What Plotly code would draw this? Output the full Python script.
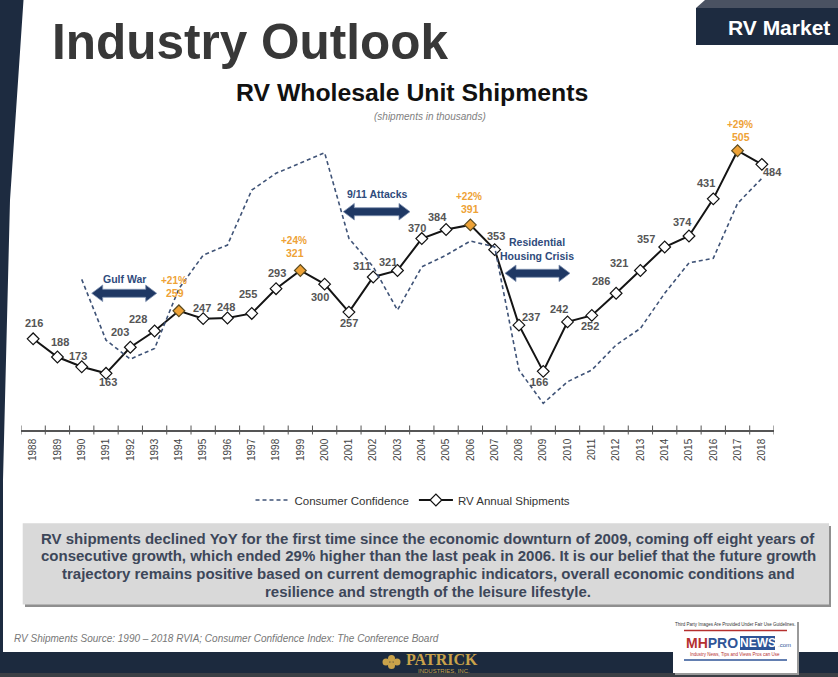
import plotly.graph_objects as go

# ---------------- data ----------------
years = list(range(1988, 2019))
rv_shipments = [216, 188, 173, 163, 203, 228, 259, 247, 248, 255, 293, 321, 300, 257, 311,
                321, 370, 384, 391, 353, 237, 166, 242, 252, 286, 321, 357, 374, 431, 505, 484]
consumer_confidence = [None, None, 91.5, 68.7, 61.6, 65.6, 88.0, 100.6, 104.4, 125.0, 131.3,
                       135.0, 139.0, 106.9, 96.2, 80.0, 96.2, 100.6, 105.9, 103.7, 57.5, 45.0,
                       53.1, 57.5, 66.9, 73.1, 86.3, 97.7, 99.4, 120.0, 129.4]
peak_years = [1994, 1999, 2006, 2017]
peak_growth = ["+21%", "+24%", "+22%", "+29%"]

events = ["Gulf War", "9/11 Attacks", "Residential<br>Housing Crisis"]

summary_lines = [
    "RV shipments declined YoY for the first time since the economic downturn of 2009, coming off eight years of",
    "consecutive growth, which ended 29% higher than the last peak in 2006. It is our belief that the future growth",
    "trajectory remains positive based on current demographic indicators, overall economic conditions and",
    "resilience and strength of the leisure lifestyle.",
]
source_text = "RV Shipments Source: 1990 \u2013 2018 RVIA; Consumer Confidence Index: The Conference Board"

# ---------------- layout helpers ----------------
W, H = 838, 677
L, R, T, B = 21, 64, 100, 247
PW, PH = W - L - R, H - T - B
FONT = "Liberation Sans"


def px(x):
    return (x - L) / PW


def py(y):
    return (H - B - y) / PH


ORANGE = "#eea236"
NAVY = "#1f3864"
LABEL = "#555555"

annotations = []
shapes = []


def ann(x, y, text, size, color, family=FONT, xanchor="center", yanchor="middle"):
    annotations.append(dict(x=px(x), y=py(y), xref="paper", yref="paper", text=text, showarrow=False,
                            xanchor=xanchor, yanchor=yanchor,
                            font=dict(family=family, size=size, color=color)))


def rect(x0, y0, x1, y1, color):
    shapes.append(dict(type="rect", xref="paper", yref="paper", x0=px(x0), x1=px(x1), y0=py(y1), y1=py(y0),
                       fillcolor=color, line=dict(width=0)))


fig = go.Figure()

fig.add_trace(go.Scatter(
    x=years, y=consumer_confidence, yaxis="y2", mode="lines",
    name="Consumer Confidence", connectgaps=False,
    line=dict(color="#3f5377", width=1.6, dash="4px,3px"),
))

mcolors = [ORANGE if y in peak_years else "white" for y in years]
mline = ["#5a4a20" if y in peak_years else "#111111" for y in years]
fig.add_trace(go.Scatter(
    x=years, y=rv_shipments, mode="lines+markers", name="RV Annual Shipments",
    line=dict(color="#141414", width=2),
    marker=dict(symbol="diamond", size=9, color=mcolors, line=dict(color=mline, width=1.2)),
))

# value labels (offsets in pixels, label center relative to point)
label_offsets = [(1, -15.5), (3, -15), (-4, -11), (2, 9), (-10, -15), (-17, -12), (-4, -17.5),
                 (-1, -11), (-1, -11), (-4, -19), (1, -15.5), (-5, -17), (-5, 13), (0, 11),
                 (-11.5, -11), (-10, -8), (-5, -11), (-9, -12), (0, -16), (1, -14), (12, -8),
                 (-4, 11), (-9, -13), (-2, 11), (-15, -12.5), (-21, -7), (-19, -8), (-6, -14),
                 (-7, -16), (3, -13.5), (11, 8)]
for yr, v, (dx, dy) in zip(years, rv_shipments, label_offsets):
    is_peak = yr in peak_years
    color = ORANGE if is_peak else LABEL
    annotations.append(dict(x=yr, y=v, xref="x", yref="y", text=f"<b>{v}</b>", showarrow=False,
                            xanchor="center", yanchor="middle",
                            xshift=dx, yshift=-dy,
                            font=dict(family=FONT, size=10.5 if is_peak else 11, color=color)))
for yr, g in zip(peak_years, peak_growth):
    i = years.index(yr)
    dx, dy = label_offsets[i]
    annotations.append(dict(x=yr, y=rv_shipments[i], xref="x", yref="y", text=f"<b>{g}</b>",
                            showarrow=False, xanchor="center", yanchor="middle",
                            xshift=dx - 1, yshift=-(dy - 12.5),
                            font=dict(family=FONT, size=10, color=ORANGE)))


# double-headed arrows for events
def double_arrow(x1, x2, yc, hh=8.3, sh=4.0, hl=11):
    pts = [(x1, yc), (x1 + hl, yc - hh), (x1 + hl, yc - sh), (x2 - hl, yc - sh), (x2 - hl, yc - hh),
           (x2, yc), (x2 - hl, yc + hh), (x2 - hl, yc + sh), (x1 + hl, yc + sh), (x1 + hl, yc + hh)]
    path = "M " + " L ".join(f"{px(a):.5f},{py(b):.5f}" for a, b in pts) + " Z"
    return dict(type="path", xref="paper", yref="paper", path=path, fillcolor=NAVY,
                line=dict(color="#7f90b0", width=0.8))


arrow_geom = [(91.7, 156.7, 293.3), (343.3, 410.0, 211.7), (505.0, 570.0, 273.3)]
event_text_pos = [(125, 278.5), (376.7, 194.3), (537.3, 249)]
for ev, (a, b, c), (tx, ty) in zip(events, arrow_geom, event_text_pos):
    shapes.append(double_arrow(a, b, c))
    ann(tx, ty, f"<b>{ev}</b>", 10.5, "#2f4b7c")

# x tick marks at year boundaries
bounds = [y - 0.5 for y in years] + [years[-1] + 0.5]
for bx in bounds:
    shapes.append(dict(type="line", xref="x", yref="paper", x0=bx, x1=bx, y0=py(425.5), y1=py(434.5),
                       line=dict(color="#555555", width=1)))

# left stripe
shapes.append(dict(type="path", xref="paper", yref="paper", layer="below",
                   path=f"M {px(0)},{py(0)} L {px(23.5)},{py(0)} L {px(10)},{py(200)} L {px(3)},{py(480)} "
                        f"L {px(3)},{py(652)} L {px(0)},{py(652)} Z",
                   fillcolor="#1d2b40", line=dict(width=0)))

# RV Market box
shapes.append(dict(type="path", xref="paper", yref="paper",
                   path=f"M {px(696)},{py(8)} L {px(705)},{py(0)} L {px(838)},{py(0)} L {px(838)},{py(8)} Z",
                   fillcolor="#4a5262", line=dict(width=0)))
rect(696, 8, 838, 45, "#1d2b40")
ann(779, 27.5, "<b>RV Market</b>", 21, "white")

# titles
ann(50, 41, "<b>Industry Outlook</b>", 49.5, "#383838", xanchor="left")
ann(412, 93, "<b>RV Wholesale Unit Shipments</b>", 24.8, "#111111")
ann(430, 116, "<i>(shipments in thousands)</i>", 10, "#808080")

# summary box
rect(25, 526, 831, 607, "#8f8f8f")
rect(22.7, 523.3, 829, 604.5, "#d9d9d9")
for i, line in enumerate(summary_lines):
    ann(428, 538 + i * 17.8, f"<b>{line}</b>", 15, "#3d4759")

ann(12, 638, f"<i>{source_text}</i>", 10, "#777777", xanchor="left")

# footer
rect(0, 652, 838, 673, "#1c2a3e")
rect(0, 673, 838, 677, "#3b3f45")
# Patrick logo (approximation)
for cx, cy in [(386, 662), (391.5, 658.5), (391.5, 665.5), (397, 662)]:
    shapes.append(dict(type="circle", xref="paper", yref="paper", x0=px(cx - 3.5), x1=px(cx + 3.5),
                       y0=py(cy + 3.5), y1=py(cy - 3.5), fillcolor="#c9a24a", line=dict(width=0)))
ann(442, 659.5, "<b>PATRICK</b>", 16, "#c9a24a", family="Liberation Serif")
ann(444, 670.5, "INDUSTRIES, INC.", 6, "#c9a24a")

# MHProNews logo (approximation)
rect(675, 622, 799, 675, "#9a9a9a")
rect(673, 620, 797, 673, "white")
shapes.append(dict(type="line", xref="paper", yref="paper", x0=px(684), x1=px(787), y0=py(630.5), y1=py(630.5),
                   line=dict(color="#b5302f", width=1.5)))
shapes.append(dict(type="line", xref="paper", yref="paper", x0=px(684), x1=px(787), y0=py(660), y1=py(660),
                   line=dict(color="#2f5597", width=1.5)))
rect(740, 636, 775, 650, "#2f5597")
ann(735, 624.5, "Third Party Images Are Provided Under Fair Use Guidelines.", 4.5, "#333333")
ann(739.5, 643, "<b><span style='color:#b5302f'>MH</span><span style='color:#2f5597'>PRO</span></b>",
    14, "#2f5597", xanchor="right")
ann(757.5, 643, "<b>NEWS</b>", 12, "white")
ann(776, 645, ".com", 6, "#2f5597", xanchor="left")
ann(735, 654, "Industry News, Tips and Views Pros can Use", 4.5, "#b5302f")

fig.update_layout(
    width=W, height=H, margin=dict(l=L, r=R, t=T, b=B, pad=0),
    paper_bgcolor="white", plot_bgcolor="white",
    showlegend=True,
    legend=dict(orientation="h", x=px(413), y=py(500), xanchor="center", yanchor="middle",
                itemwidth=34,
                font=dict(family=FONT, size=11.5, color="#333333"), bgcolor="rgba(0,0,0,0)"),
    xaxis=dict(range=[1987.5, 2018.5], tickvals=years, ticktext=[str(y) for y in years],
               tickangle=-90, ticks="", showline=True, linecolor="#555555", linewidth=1.5,
               showgrid=False, zeroline=False, tickfont=dict(family=FONT, size=10, color="#444444"),
               ticklabelstandoff=3),
    yaxis=dict(range=[75.9, 582.9], visible=False, showgrid=False, zeroline=False),
    yaxis2=dict(range=[35.0, 158.8], overlaying="y", side="right", visible=False,
                showgrid=False, zeroline=False),
    annotations=annotations, shapes=shapes,
)

fig.write_html("out.html")
